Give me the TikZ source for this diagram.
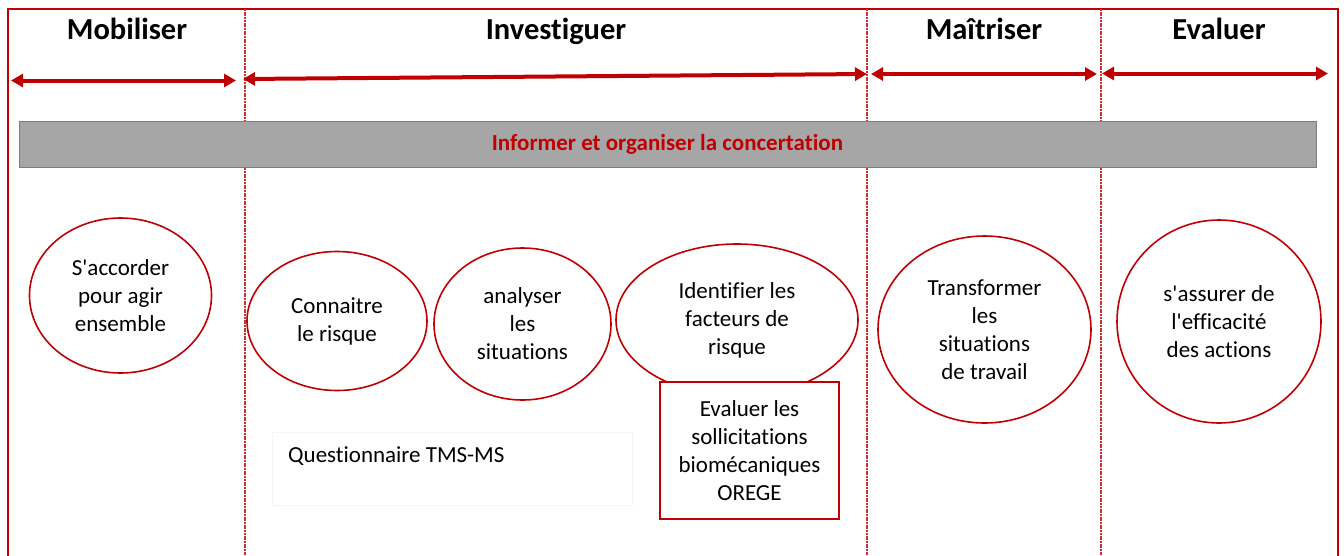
\documentclass[tikz,border=0pt]{standalone}
\usepackage{fontspec}
\setmainfont{Carlito}[Ligatures={TeX,CommonOff}]
\usetikzlibrary{arrows.meta,shapes.geometric}

\definecolor{darkred}{HTML}{C00000}
\definecolor{bargray}{HTML}{A6A6A6}
\definecolor{sepred}{HTML}{D03030}

\tikzset{
  phase/.style={font=\fontsize{30.5}{36}\selectfont\bfseries, anchor=base},
  span/.style={darkred, line width=4pt, {Triangle[length=12pt,width=13pt]}-{Triangle[length=12pt,width=13pt]}},
  sep/.style={sepred, line width=1.1pt, dash pattern=on 2pt off 0.7pt},
  action/.style={ellipse, draw=darkred, line width=1.6pt, inner sep=0pt, align=center, font=\fontsize{23}{28}\selectfont},
  tool/.style={rectangle, draw=darkred, fill=white, line width=1.6pt, align=center, font=\fontsize{23}{28}\selectfont}
}

\begin{document}
\begin{tikzpicture}[x=1pt,y=-1pt]
  \useasboundingbox (0,0) rectangle (1344,555);
  \draw[darkred, line width=2.5pt] (8,570) -- (8,9) -- (1338,9) -- (1338,570);

  % phases
  \draw[sep] (245,9) -- (245,555);
  \draw[sep] (867,9) -- (867,555);
  \draw[sep] (1101,9) -- (1101,555);
  \node[phase] (mobiliser) at (127,39) {Mobiliser};
  \node[phase] (investiguer) at (556,39) {Investiguer};
  \node[phase] (maitriser) at (984,39) {Maîtriser};
  \node[phase] (evaluer) at (1219,39) {Evaluer};

  \coordinate (m1) at (11,80.5);   \coordinate (m2) at (236,80.5);
  \coordinate (i1) at (243,79);    \coordinate (i2) at (867,74);
  \coordinate (t1) at (871,74);    \coordinate (t2) at (1097,74);
  \coordinate (e1) at (1102,73.5); \coordinate (e2) at (1328,73.5);
  \draw[span] (m1) -- (m2);
  \draw[span] (i1) -- (i2);
  \draw[span] (t1) -- (t2);
  \draw[span] (e1) -- (e2);

  \node[draw=bargray!75!black, fill=bargray, line width=1pt, minimum width=1297pt, minimum height=46pt,
        text=darkred, font=\fontsize{23}{27}\selectfont\bfseries] (concertation) at (667.5,144)
        {Informer et organiser la concertation};

  % actions
  \node[action, minimum width=182pt, minimum height=155pt] (accorder) at (120.5,295.5)
        {S\textquotesingle accorder\\pour agir\\ensemble};
  \node[action, minimum width=180pt, minimum height=139pt] (connaitre) at (337,321)
        {Connaitre\\le risque};
  \node[action, minimum width=177pt, minimum height=152pt] (analyser) at (522.5,324)
        {analyser\\les\\situations};
  \node[action, minimum width=242pt, minimum height=152pt] (identifier) at (737,320)
        {Identifier les\\facteurs de\\risque};
  \node[action, minimum width=213pt, minimum height=187pt] (transformer) at (984.5,329.5)
        {Transformer\\les\\situations\\de travail};
  \node[action, minimum width=204pt, minimum height=203pt] (assurer) at (1219,321.5)
        {s\textquotesingle assurer de\\l\textquotesingle efficacité\\des actions};

  \node[tool, minimum width=179pt, minimum height=137pt] (orege) at (749.5,450.5)
        {Evaluer les\\sollicitations\\biomécaniques\\OREGE};

  \draw[black!4] (272,432) rectangle (632,505);
  \node[anchor=base west, inner sep=0pt, font=\fontsize{23}{28}\selectfont] (questionnaire) at (288,462)
        {Questionnaire TMS-MS};
\end{tikzpicture}
\end{document}
